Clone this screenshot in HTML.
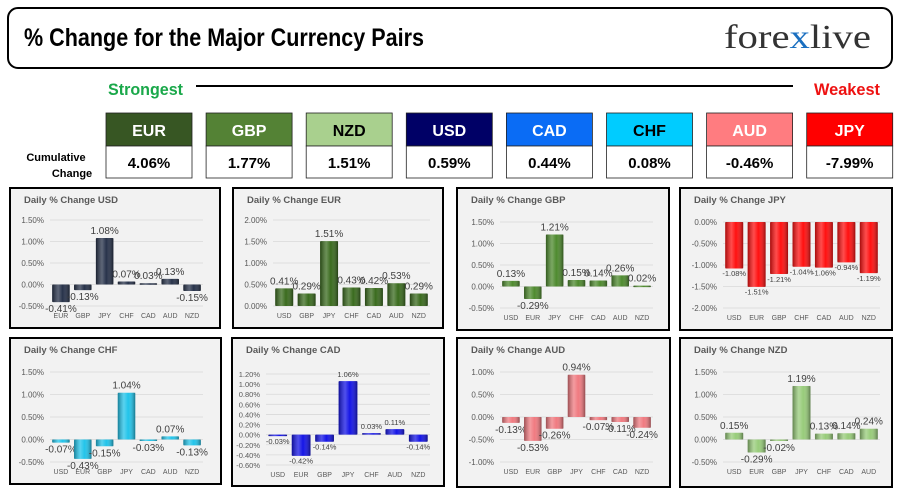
<!DOCTYPE html>
<html><head><meta charset="utf-8">
<style>
html,body{margin:0;padding:0;background:#fff;}
svg{display:block;}
text{font-family:"Liberation Sans",sans-serif;}
.cond{font-family:"Liberation Sans Narrow","Liberation Sans",sans-serif;font-weight:bold;}
</style></head>
<body>
<svg id="root" width="900" height="493" viewBox="0 0 900 493" xmlns="http://www.w3.org/2000/svg">
<defs>
<linearGradient id="shade" x1="0" x2="1" y1="0" y2="0">
<stop offset="0" stop-color="#000" stop-opacity="0.35"/>
<stop offset="0.35" stop-color="#fff" stop-opacity="0.25"/>
<stop offset="0.6" stop-color="#fff" stop-opacity="0"/>
<stop offset="1" stop-color="#000" stop-opacity="0.4"/>
</linearGradient>
</defs>
<rect x="8" y="8" width="884" height="60" rx="10" fill="#fff" stroke="#000" stroke-width="2"/>
<text x="24" y="46" class="cond" font-size="25" textLength="400" lengthAdjust="spacingAndGlyphs" fill="#000">% Change for the Major Currency Pairs</text>
<text x="724" y="48" font-family="Liberation Serif" style="font-family:'Liberation Serif',serif" font-size="34" fill="#333" textLength="147" lengthAdjust="spacingAndGlyphs">fore<tspan fill="#1a6fc0">x</tspan>live</text>
<text x="108" y="95" class="cond" font-size="17" fill="#1aa84a" textLength="75" lengthAdjust="spacingAndGlyphs">Strongest</text>
<line x1="196" y1="86" x2="793" y2="86" stroke="#000" stroke-width="2"/>
<text x="814" y="95" class="cond" font-size="17" fill="#ee1111" textLength="66" lengthAdjust="spacingAndGlyphs">Weakest</text>
<text x="56" y="161" class="cond" font-size="11" text-anchor="middle" fill="#000">Cumulative</text>
<text x="72" y="177" class="cond" font-size="11" text-anchor="middle" fill="#000">Change</text>
<g id="boxes"></g>
<g id="panels"></g>
</svg>
<script>
const rankCurrencies = ["EUR","GBP","NZD","USD","CAD","CHF","AUD","JPY"];
const rankValues = ["4.06%","1.77%","1.51%","0.59%","0.44%","0.08%","-0.46%","-7.99%"];
const rankColors = ["#375623","#548235","#a9d08e","#000066","#0a6cf5","#00ccff","#ff7c80","#ff0000"];
const rankText = ["#fff","#fff","#000","#fff","#fff","#000","#fff","#fff"];

const usdCats=["EUR","GBP","JPY","CHF","CAD","AUD","NZD"];
const usdVals=[-0.41,-0.13,1.08,0.07,0.03,0.13,-0.15];
const eurCats=["USD","GBP","JPY","CHF","CAD","AUD","NZD"];
const eurVals=[0.41,0.29,1.51,0.43,0.42,0.53,0.29];
const gbpCats=["USD","EUR","JPY","CHF","CAD","AUD","NZD"];
const gbpVals=[0.13,-0.29,1.21,0.15,0.14,0.26,0.02];
const jpyCats=["USD","EUR","GBP","CHF","CAD","AUD","NZD"];
const jpyVals=[-1.08,-1.51,-1.21,-1.04,-1.06,-0.94,-1.19];
const chfCats=["USD","EUR","GBP","JPY","CAD","AUD","NZD"];
const chfVals=[-0.07,-0.43,-0.15,1.04,-0.03,0.07,-0.13];
const cadCats=["USD","EUR","GBP","JPY","CHF","AUD","NZD"];
const cadVals=[-0.03,-0.42,-0.14,1.06,0.03,0.11,-0.14];
const audCats=["USD","EUR","GBP","JPY","CHF","CAD","NZD"];
const audVals=[-0.13,-0.53,-0.26,0.94,-0.07,-0.11,-0.24];
const nzdCats=["USD","EUR","GBP","JPY","CHF","CAD","AUD"];
const nzdVals=[0.15,-0.29,-0.02,1.19,0.13,0.14,0.24];

const usdTicks=[-0.5,0,0.5,1.0,1.5];
const eurTicks=[0,0.5,1.0,1.5,2.0];
const jpyTicks=[-2.0,-1.5,-1.0,-0.5,0];
const cadTicks=[-0.6,-0.4,-0.2,0,0.2,0.4,0.6,0.8,1.0,1.2];
const audTicks=[-1.0,-0.5,0,0.5,1.0];

const NS="http://www.w3.org/2000/svg";
function mk(tag,attrs,parent){const e=document.createElementNS(NS,tag);for(const k in attrs)e.setAttribute(k,attrs[k]);parent.appendChild(e);return e;}

const boxes=document.getElementById('boxes');
rankCurrencies.forEach((c,i)=>{
  const x=106+i*100.1;
  const h=mk('rect',{x:x,y:113,width:86,height:33,fill:rankColors[i],stroke:"#222","stroke-width":0.8},boxes);
  
  
  const v=mk('rect',{x:x,y:146,width:86,height:32,fill:"#fff",stroke:"#222","stroke-width":0.8},boxes);
  
  
  const t=mk('text',{x:x+43,y:136,"text-anchor":"middle","font-size":16,fill:rankText[i],class:"cond"},boxes);
  t.textContent=c;
  
  
  const tv=mk('text',{x:x+43,y:168,"text-anchor":"middle","font-size":15,fill:"#000",class:"cond"},boxes);
  tv.textContent=rankValues[i];
  
  
});

const panels=[
 {id:"usd",x:10,y:188,w:210,h:140,title:"Daily % Change USD",cats:usdCats,vals:usdVals,ticks:usdTicks,dec:2,top:220,bot:306,p0:50,p1:203,color:"#27324a",lfs:10},
 {id:"eur",x:233,y:188,w:210,h:140,title:"Daily % Change EUR",cats:eurCats,vals:eurVals,ticks:eurTicks,dec:2,top:220,bot:306,p0:273,p1:430,color:"#3a6b1e",lfs:10},
 {id:"gbp",x:457,y:188,w:212,h:142,title:"Daily % Change GBP",cats:gbpCats,vals:gbpVals,ticks:usdTicks,dec:2,top:222,bot:308,p0:500,p1:653,color:"#4e8a2e",lfs:10},
 {id:"jpy",x:680,y:188,w:212,h:142,title:"Daily % Change JPY",cats:jpyCats,vals:jpyVals,ticks:jpyTicks,dec:2,top:222,bot:308,p0:723,p1:880,color:"#ff1010",lfs:7.5},
 {id:"chf",x:10,y:338,w:211,h:146,title:"Daily % Change CHF",cats:chfCats,vals:chfVals,ticks:usdTicks,dec:2,top:372,bot:462,p0:50,p1:203,color:"#22c4ea",lfs:10},
 {id:"cad",x:232,y:338,w:212,h:148,title:"Daily % Change CAD",cats:cadCats,vals:cadVals,ticks:cadTicks,dec:2,top:374,bot:465,p0:266,p1:430,color:"#1515e6",lfs:7.5},
 {id:"aud",x:457,y:338,w:213,h:149,title:"Daily % Change AUD",cats:audCats,vals:audVals,ticks:audTicks,dec:2,top:372,bot:462,p0:500,p1:653,color:"#f07a80",lfs:10},
 {id:"nzd",x:680,y:338,w:212,h:149,title:"Daily % Change NZD",cats:nzdCats,vals:nzdVals,ticks:usdTicks,dec:2,top:372,bot:462,p0:723,p1:880,color:"#98cc7a",lfs:10}
];

const pg=document.getElementById('panels');
panels.forEach(p=>{
  const g=mk('g',{},pg);
  
  
  const bg=mk('rect',{x:p.x,y:p.y,width:p.w,height:p.h,fill:"#f2f2f2",stroke:"#000","stroke-width":2},g);
  
  
  const tt=mk('text',{x:p.x+14,y:p.y+15,"font-size":9.5,"font-weight":"bold",fill:"#595959"},g);
  tt.textContent=p.title;
  
  
  const tmin=p.ticks[0], tmax=p.ticks[p.ticks.length-1];
  const yS=v=>p.bot-(v-tmin)/(tmax-tmin)*(p.bot-p.top);
  const slot=(p.p1-p.p0)/p.cats.length;
  const xS=i=>p.p0+slot*i;
  p.ticks.forEach(t=>{
    const y=yS(t);
    const gl=mk('line',{x1:p.p0,x2:p.p1,y1:y,y2:y,stroke:"#d9d9d9","stroke-width":0.8},g);
    
    
    const tl=mk('text',{x:p.p0-6,y:y+3,"text-anchor":"end","font-size":p.ticks.length>6?7.5:8,fill:"#595959"},g);
    tl.textContent=t.toFixed(2)+'%';
    
    
  });
  const y0=yS(0);
  p.vals.forEach((v,i)=>{
    const bx=xS(i)+slot*0.1, bw=slot*0.8;
    const yv=yS(v);
    const top=Math.min(y0,yv), hgt=Math.max(1.5,Math.abs(yv-y0));
    const b=mk('rect',{x:bx,y:top,width:bw,height:hgt,fill:p.color,rx:1},g);
    
    
    const s=mk('rect',{x:bx,y:top,width:bw,height:hgt,fill:"url(#shade)"},g);
    
    
    const ly=v>=0?top-4:top+hgt+p.lfs*0.9+1;
    const dl=mk('text',{x:xS(i)+slot/2,y:ly,"text-anchor":"middle","font-size":p.lfs,fill:"#404040"},g);
    dl.textContent=v.toFixed(p.dec)+'%';
    
    
    const cl=mk('text',{x:xS(i)+slot/2,y:p.bot+12,"text-anchor":"middle","font-size":7,fill:"#595959"},g);
    cl.textContent=p.cats[i];
    
    
  });
});
</script>
</body></html>
